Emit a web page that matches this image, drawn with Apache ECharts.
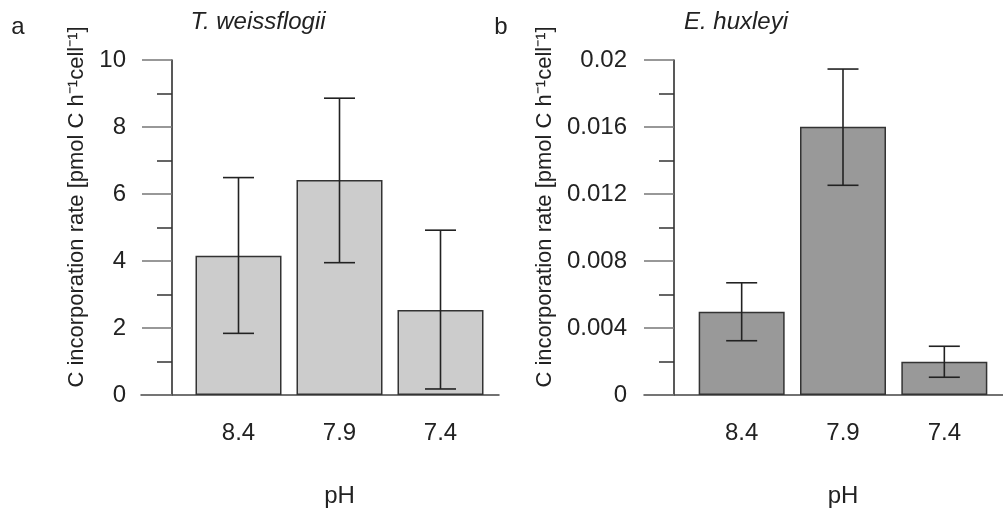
<!DOCTYPE html>
<html>
<head>
<meta charset="utf-8">
<script src="https://cdn.jsdelivr.net/npm/echarts@6/dist/echarts.min.js"></script>
<style>
  html, body { margin: 0; padding: 0; background: #fff; }
  #chart { width: 1003px; height: 514px; }
</style>
</head>
<body>
<div id="chart"></div>
<script>
// pH treatments
const categories = ['8.4', '7.9', '7.4'];

// a: T. weissflogii, C incorporation rate (mean, lower / upper error)
const rateA = [4.16, 6.42, 2.54];
const lowA = [1.84, 3.95, 0.18];
const highA = [6.49, 8.86, 4.92];

// b: E. huxleyi
const rateB = [0.00497, 0.01602, 0.00199];
const lowB = [0.00324, 0.01252, 0.00106];
const highB = [0.0067, 0.01946, 0.00291];

const FONT = '"Liberation Sans", Arial, sans-serif';
const yName = 'C incorporation rate [pmol C h\u207B\u00B9cell\u207B\u00B9]';

function errData(low, high) {
    return categories.map((c, i) => [i, low[i], high[i]]);
}

function renderErr(params, api) {
    const lo = api.coord([api.value(0), api.value(1)]);
    const hi = api.coord([api.value(0), api.value(2)]);
    const half = 15.5;
    const style = { stroke: '#222', lineWidth: 1.6 };
    return {
        type: 'group',
        children: [
            { type: 'line', shape: { x1: lo[0], y1: lo[1], x2: hi[0], y2: hi[1] }, style },
            { type: 'line', shape: { x1: lo[0] - half, y1: lo[1], x2: lo[0] + half, y2: lo[1] }, style },
            { type: 'line', shape: { x1: hi[0] - half, y1: hi[1], x2: hi[0] + half, y2: hi[1] }, style }
        ]
    };
}

function valueAxis(grid, max, interval, offset, margin) {
    return {
        type: 'value', gridIndex: grid, min: 0, max: max, interval: interval,
        offset: offset,
        axisLine: { show: true, lineStyle: { color: '#222', width: 1.5 } },
        axisTick: { show: true, length: 30, lineStyle: { color: '#777', width: 1.5 } },
        minorTick: { show: true, splitNumber: 2, length: 15, lineStyle: { color: '#333', width: 1.5 } },
        splitLine: { show: false },
        axisLabel: { margin: margin, fontSize: 24, color: '#222', fontFamily: FONT }
    };
}

function catAxis(grid) {
    return {
        type: 'category', gridIndex: grid, data: categories,
        axisLine: { show: false }, axisTick: { show: false },
        axisLabel: { margin: 26, fontSize: 24, color: '#222', fontFamily: FONT },
        name: 'pH', nameLocation: 'middle', nameGap: 89,
        nameTextStyle: { fontSize: 24, color: '#222', fontFamily: FONT }
    };
}

function baseAxis(grid) {
    return {
        type: 'value', gridIndex: grid, min: 0, max: 1,
        axisLine: { show: true, lineStyle: { color: '#444', width: 1.5 } },
        axisTick: { show: false }, axisLabel: { show: false }, splitLine: { show: false }
    };
}

function hiddenY(grid) {
    return { type: 'value', gridIndex: grid, min: 0, max: 1, show: false };
}

function label(text, x, y, size, extra, rotation) {
    return {
        type: 'text', x: x, y: y, rotation: rotation || 0,
        style: Object.assign({
            text: text, fill: '#222', fontSize: size, fontFamily: FONT,
            textAlign: 'center', textVerticalAlign: 'middle'
        }, extra || {})
    };
}

const chart = echarts.init(document.getElementById('chart'));
chart.setOption({
    animation: false,
    backgroundColor: '#fff',
    grid: [
        { left: 188, top: 60, width: 303, height: 335 },
        { left: 141, top: 60, width: 358, height: 335 },
        { left: 691, top: 60, width: 304, height: 335 },
        { left: 644, top: 60, width: 359, height: 335 }
    ],
    xAxis: [catAxis(0), baseAxis(1), catAxis(2), baseAxis(3)],
    yAxis: [
        valueAxis(0, 10, 2, 16, 46),
        hiddenY(1),
        valueAxis(2, 0.02, 0.004, 17, 47),
        hiddenY(3)
    ],
    graphic: [
        label('a', 18, 27, 24),
        label('b', 501, 27, 24),
        label('T. weissflogii', 258, 22, 24, { fontStyle: 'italic' }),
        label('E. huxleyi', 736, 22, 24, { fontStyle: 'italic' }),
        label(yName, 77, 207, 22, null, Math.PI / 2),
        label(yName, 545, 207, 22, null, Math.PI / 2)
    ],
    series: [
        {
            type: 'bar', xAxisIndex: 0, yAxisIndex: 0, data: rateA, barWidth: 86,
            itemStyle: { color: '#cccccc', borderColor: '#333', borderWidth: 1.5 }
        },
        {
            type: 'custom', xAxisIndex: 0, yAxisIndex: 0, data: errData(lowA, highA),
            renderItem: renderErr, z: 5
        },
        {
            type: 'bar', xAxisIndex: 2, yAxisIndex: 2, data: rateB, barWidth: 86,
            itemStyle: { color: '#999999', borderColor: '#333', borderWidth: 1.5 }
        },
        {
            type: 'custom', xAxisIndex: 2, yAxisIndex: 2, data: errData(lowB, highB),
            renderItem: renderErr, z: 5
        }
    ]
});
</script>
</body>
</html>
